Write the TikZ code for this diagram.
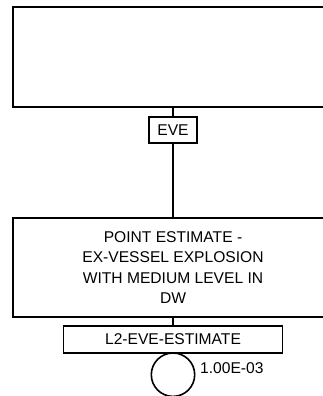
\documentclass[tikz,border=0pt]{standalone}
\usepackage{fontspec}
\setmainfont{Liberation Sans}
\begin{document}
\begin{tikzpicture}[x=1bp,y=-1bp,
  box/.style={draw, line width=1.6bp, inner sep=0pt, fill=white},
  lbl/.style={font=\fontsize{15.6bp}{20.3bp}\selectfont},
  conn/.style={line width=1.6bp}]
\useasboundingbox (0,0) rectangle (323,396);
\node[box, minimum width=320bp, minimum height=100bp] (top) at (173,57) {};
\node[box, lbl, minimum width=48bp, minimum height=26bp] (eve) at (173,130) {EVE};
\node[box, lbl, minimum width=320bp, minimum height=99bp, align=center] (mid) at (173,267.5)
  {POINT ESTIMATE -\\EX-VESSEL EXPLOSION\\WITH MEDIUM LEVEL IN\\DW};
\node[box, lbl, minimum width=219bp, minimum height=27bp] (l2) at (173,339.5) {L2-EVE-ESTIMATE};
\node[draw, circle, line width=1.6bp, minimum size=43.4bp, inner sep=0pt] (ev) at (173,374.7) {};
\node[lbl, anchor=base west, inner sep=0pt] (prob) at (200,373.3) {1.00E-03};
\draw[conn] (top.south) -- (eve.north);
\draw[conn] (eve.south) -- (mid.north);
\draw[conn] (mid.south) -- (l2.north);
\end{tikzpicture}
\end{document}
